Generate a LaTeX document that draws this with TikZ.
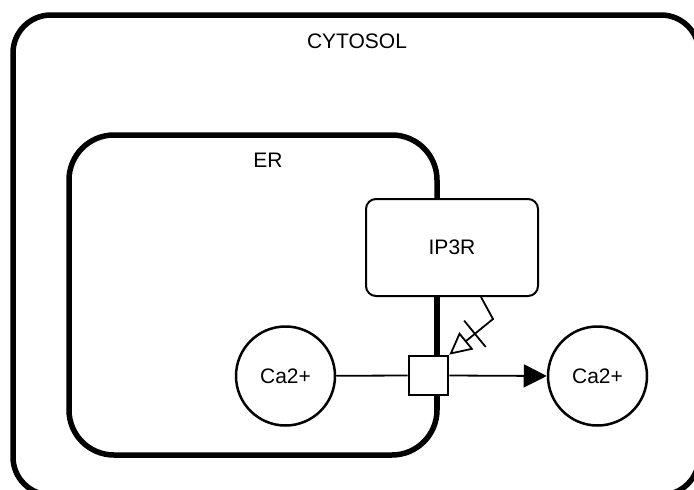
\documentclass[tikz,border=0pt]{standalone}
\usepackage{fontspec}
\setmainfont{Liberation Sans}
\usetikzlibrary{arrows.meta,calc}
\begin{document}
\begin{tikzpicture}[x=1pt,y=-1pt,
  compartment/.style={draw, rectangle, line width=5.5pt, inner sep=0pt},
  macro/.style={draw, fill=white, circle, line width=2.5pt, minimum size=99pt, inner sep=0pt, font=\fontsize{21}{25}\selectfont},
  glyph/.style={draw, fill=white, rectangle, rounded corners=10pt, line width=2pt, minimum width=172pt, minimum height=97pt, inner sep=0pt, font=\fontsize{21}{25}\selectfont},
  procnode/.style={draw, fill=white, rectangle, line width=2.7pt, minimum size=39pt, inner sep=0pt},
  lbl/.style={inner sep=0pt, font=\fontsize{21}{25}\selectfont},
  flow/.style={line width=1.8pt},
  modul/.style={line width=1.8pt, -{Triangle[open,length=22pt,width=22pt]}},
]
\useasboundingbox (0,0) rectangle (694,490);
\fill[white] (0,0) rectangle (694,490);
% compartments
\node[compartment, rounded corners=38pt, minimum width=686pt, minimum height=480pt] (cytosol) at (356,255) {};
\node[lbl] (cytosollbl) at (357,41) {CYTOSOL};
\node[compartment, rounded corners=45pt, minimum width=368pt, minimum height=320pt] (er) at (253,295) {};
\node[lbl] (erlbl) at (268,160) {ER};
% thicker membrane part near the process
\draw[line width=6.5pt] (437,296) -- (437,410);
% entities
\node[glyph] (ip3r) at (452,247.5) {IP3R};
\node[procnode] (proc) at (428.5,375.5) {};
\node[macro] (caL) at (285.5,376) {Ca2+};
\node[macro] (caR) at (597.5,376) {Ca2+};
% flows
\draw[flow] (caL) -- (proc.west);
\draw[flow, -{Triangle[length=23pt,width=23pt]}] (proc.east) -- (caR.west);
% necessary stimulation
\coordinate (mbend) at (493,319);
\draw[modul] ([xshift=29pt]ip3r.south) -- (mbend) -- (proc.north east);
\coordinate (barc) at ($(proc.north east)!33pt!(mbend)$);
\draw[line width=1.8pt] ($(barc)!17pt!90:(mbend)$) -- ($(barc)!17pt!-90:(mbend)$);
\end{tikzpicture}
\end{document}
